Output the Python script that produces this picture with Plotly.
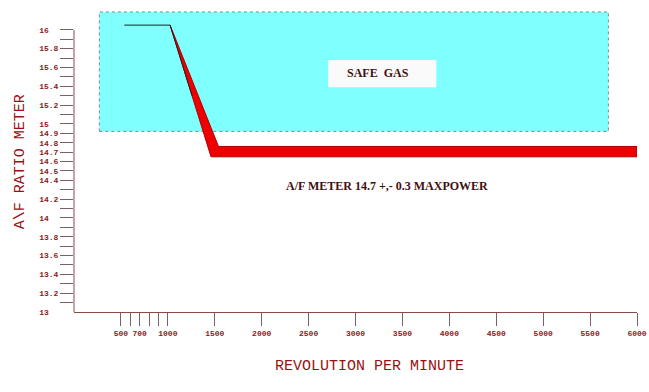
import plotly.graph_objects as go

# ---- data ----
rpm_tickvals = [500, 600, 700, 800, 900, 1000, 1500, 2000, 2500, 3000, 3500, 4000, 4500, 5000, 5500, 6000]
rpm_ticktext = ["500", "", "700", "", "", "1000", "1500", "2000", "2500", "3000", "3500", "4000", "4500", "5000", "5500", "6000"]

af_tickvals = [13.1, 13.2, 13.3, 13.4, 13.5, 13.6, 13.7, 13.8, 13.9, 14.0,
               14.1, 14.2, 14.3, 14.4, 14.5, 14.6, 14.7, 14.8, 14.9, 15.0,
               15.1, 15.2, 15.3, 15.4, 15.5, 15.6, 15.7, 15.8, 15.9, 16.0]
af_labels = {13.2: "13.2", 13.4: "13.4", 13.6: "13.6", 13.8: "13.8", 14.0: "14",
             14.2: "14.2", 14.4: "14.4", 14.5: "14.5", 14.6: "14.6", 14.7: "14.7",
             14.8: "14.8", 14.9: "14.9", 15.0: "15", 15.2: "15.2", 15.4: "15.4",
             15.6: "15.6", 15.8: "15.8", 16.0: "16"}

band_rpm = [1024, 1540, 6000, 6000, 1460, 1024]
band_af = [16.05, 14.76, 14.76, 14.65, 14.65, 16.05]

line_rpm = [536, 1024, 1258]
line_af = [16.05, 16.05, 15.3]

safe_rpm = [270, 5695]
safe_af = [14.92, 16.19]

label_box_rpm = [2709, 3861]
label_box_af = [15.39, 15.68]

x_range = [0, 6000]
y_range = [13, 16.2]
y_axis_span = [13, 16]

# ---- styling ----
AXIS_COL = "#8b4a4a"
TICK_COL = "#8b1a1a"
TITLE_COL = "#9b1010"
TEXT_COL = "#3f1010"

W, H = 649, 392
L, R, T, B = 74, 12.3, 11.2, 80
pw, ph = W - L - R, H - T - B


def pad(s, n=4):
    return s + "\u00a0" * (n - len(s))


af_ticktext = [pad(af_labels[v]) if v in af_labels else "" for v in af_tickvals]


def px_x(px):
    return (px - L) / pw


def px_y(py):
    return (H - B - py) / ph


fig = go.Figure()

fig.add_trace(go.Scatter(x=band_rpm, y=band_af, mode="lines", fill="toself",
                         fillcolor="#ee0000", line=dict(color="#b00000", width=1),
                         hoverinfo="skip", showlegend=False))
fig.add_trace(go.Scatter(x=line_rpm, y=line_af, mode="lines",
                         line=dict(color="#222222", width=1),
                         hoverinfo="skip", showlegend=False))
# invisible trace on overlay axis for the "13" label
fig.add_trace(go.Scatter(x=[None], y=[None], yaxis="y2", showlegend=False, hoverinfo="skip"))

fig.add_shape(type="rect", xref="x", yref="y",
              x0=safe_rpm[0], x1=safe_rpm[1], y0=safe_af[0], y1=safe_af[1],
              fillcolor="#80ffff", line=dict(color="#888888", width=1, dash="dot"), layer="below")
fig.add_shape(type="rect", xref="x", yref="y",
              x0=label_box_rpm[0], x1=label_box_rpm[1], y0=label_box_af[0], y1=label_box_af[1],
              fillcolor="#fafafa", line=dict(width=0), layer="below")
# vertical axis line spanning only 13..16
fig.add_shape(type="line", xref="paper", yref="y", x0=0, x1=0,
              y0=y_axis_span[0], y1=y_axis_span[1], line=dict(color=AXIS_COL, width=1))

fig.add_annotation(x=3237, y=15.54, xref="x", yref="y", text="<b>SAFE\u00a0\u00a0GAS</b>",
                   showarrow=False, font=dict(family="Liberation Serif", size=12, color=TEXT_COL))
fig.add_annotation(x=3333, y=14.344, xref="x", yref="y",
                   text="<b>A/F METER 14.7 +,- 0.3 MAXPOWER</b>",
                   showarrow=False, font=dict(family="Liberation Serif", size=12, color=TEXT_COL))

# axis titles (positions given in window pixels)
fig.add_annotation(x=px_x(10), y=px_y(162), xref="paper", yref="paper", text="A\\F RATIO METER",
                   textangle=-90, showarrow=False,
                   font=dict(family="Liberation Mono", size=15, color=TITLE_COL))
fig.add_annotation(x=px_x(369), y=px_y(377), xref="paper", yref="paper", text="REVOLUTION PER MINUTE",
                   showarrow=False,
                   font=dict(family="Liberation Mono", size=15, color=TITLE_COL))

tickfont = dict(family="Liberation Mono", size=8, color=TICK_COL, weight="bold")

fig.update_layout(
    width=W, height=H,
    margin=dict(l=L, r=R, t=T, b=B, autoexpand=False),
    paper_bgcolor="white", plot_bgcolor="white",
    hovermode=False,
    xaxis=dict(range=x_range, tickmode="array", tickvals=rpm_tickvals, ticktext=rpm_ticktext,
               ticks="outside", ticklen=13, tickcolor="#7a6060", tickwidth=1,
               showline=True, linecolor=AXIS_COL, linewidth=1, showgrid=False, zeroline=False,
               tickfont=dict(family="Liberation Mono", size=8, color=TICK_COL, weight="bold")),
    yaxis=dict(range=y_range, tickmode="array", tickvals=af_tickvals, ticktext=af_ticktext,
               ticks="outside", ticklen=13, tickcolor="#7a6060", tickwidth=1,
               showline=False, showgrid=False, zeroline=False,
               tickfont=tickfont),
    yaxis2=dict(range=y_range, overlaying="y", side="left", tickmode="array",
                tickvals=[13.0], ticktext=[pad("13")],
                ticks="outside", ticklen=13, tickcolor="rgba(0,0,0,0)",
                showline=False, showgrid=False, zeroline=False, tickfont=tickfont),
)

fig.write_html("out.html", config={"displayModeBar": False},
               post_script="document.body.style.margin='0px';document.body.style.overflow='hidden';")
